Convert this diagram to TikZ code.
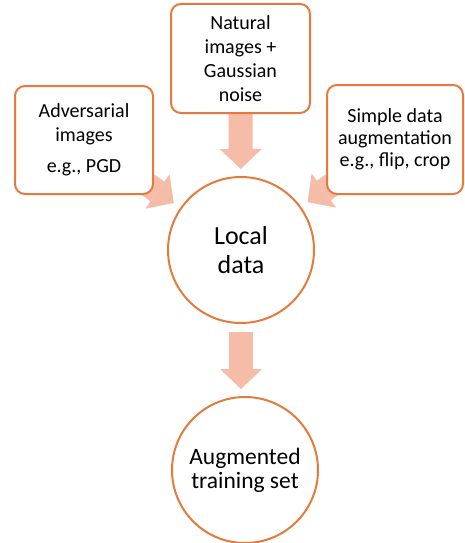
\documentclass[tikz,border=0pt]{standalone}
\usepackage{fontspec}
\setmainfont{Carlito}
\usetikzlibrary{arrows.meta,backgrounds}
\definecolor{edgec}{HTML}{E47B3C}
\definecolor{afill}{HTML}{F5BDA8}
\begin{document}
\begin{tikzpicture}[x=1pt,y=-1pt,
  box/.style={draw=edgec,line width=2pt,fill=white,rounded corners=10pt,align=center,inner sep=0pt},
  circ/.style={draw=edgec,line width=2pt,fill=white,circle,minimum size=146pt,inner sep=0pt,align=center},
  fat/.style={draw=afill,line width=24pt,-{Triangle[length=20pt,width=42pt,line width=0pt]}}]
\useasboundingbox (0,0) rectangle (464,543);
\node[box,minimum width=138pt,minimum height=108pt,font=\fontsize{20}{24}\selectfont] (adv) at (84,140) {Adversarial\\images\\[7pt]e.g., PGD};
\node[box,minimum width=139pt,minimum height=109pt,font=\fontsize{20}{24}\selectfont] (nat) at (240.5,58.5) {Natural\\images +\\Gaussian\\noise};
\node[box,minimum width=136pt,minimum height=109pt,font=\fontsize{20}{22}\selectfont] (simp) at (395,139.5) {Simple data\\augmentation\\e.g., flip, crop};
\node[circ,font=\fontsize{26}{29}\selectfont] (local) at (241,250) {Local\\data};
\node[circ,font=\fontsize{23.5}{24}\selectfont] (train) at (245,470) {Augmented\\training set};
\begin{scope}[on background layer]
\draw[fat,shorten <=-30pt,shorten >=8pt] (adv) -- (local);
\draw[fat,shorten <=-30pt,shorten >=8pt] (simp) -- (local);
\draw[fat,shorten <=-5pt,shorten >=7pt] (nat) -- (local);
\draw[fat,shorten <=8pt,shorten >=7pt] (local.south) -- (local.south |- train.north);
\end{scope}
\end{tikzpicture}
\end{document}
